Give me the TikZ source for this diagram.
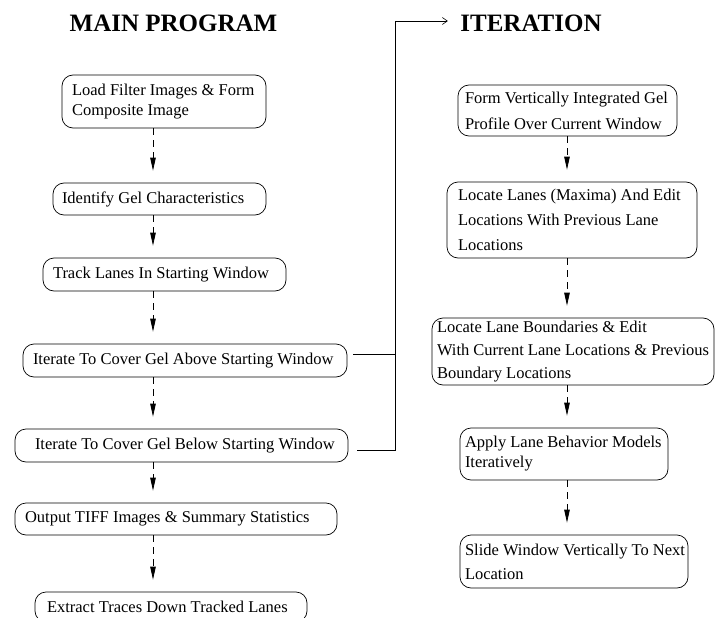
\documentclass[tikz,border=0pt]{standalone}
\usepackage{fontspec}
\setmainfont{Liberation Serif}
\usetikzlibrary{arrows.meta}
\begin{document}
\begin{tikzpicture}[x=1pt,y=-1pt,
  box/.style={draw, line width=0.7pt, rounded corners=11pt, align=flush left,
    inner ysep=0pt, font=\fontsize{16.5}{20}\selectfont},
  flow/.style={draw, line width=0.8pt, dash pattern=on 7pt off 5pt,
    -{Triangle[length=13pt,width=5.5pt]}, shorten >=12pt},
  link/.style={draw, line width=0.6pt},
  title/.style={font=\fontsize{25}{30}\selectfont\bfseries}]
\useasboundingbox (0,0) rectangle (715,618);

% headings
\node[title] (main) at (173.5,23.5) {MAIN PROGRAM};
\node[title] (iter) at (531,23.5) {ITERATION};

% main program
\node[box, text width=184pt, inner xsep=10pt, minimum height=53pt] (b1) at (164,101.5)
  {\mbox{Load Filter Images \& Form}\\\mbox{Composite Image}};
\node[box, text width=195pt, inner xsep=9pt, minimum height=32pt] (b2) at (159.5,199)
  {\mbox{Identify Gel Characteristics}};
\node[box, text width=223pt, inner xsep=10pt, minimum height=33pt] (b3) at (164.5,274.5)
  {\mbox{Track Lanes In Starting Window}};
\node[box, text width=304pt, inner xsep=10pt, minimum height=33pt] (b4) at (185,360.5)
  {\mbox{Iterate To Cover Gel Above Starting Window}};
\node[box, text width=293pt, inner xsep=20pt, minimum height=33pt] (b5) at (181.5,445.5)
  {\mbox{Iterate To Cover Gel Below Starting Window}};
\node[box, text width=302pt, inner xsep=10pt, minimum height=32pt] (b6) at (176,519)
  {\mbox{Output TIFF Images \& Summary Statistics}};
\node[box, text width=248pt, inner xsep=12pt, minimum height=30pt] (b7) at (171,607)
  {\mbox{Extract Traces Down Tracked Lanes}};

% iteration
\node[box, text width=205pt, inner xsep=7pt, minimum height=51pt,
  font=\fontsize{16.5}{26}\selectfont] (r1) at (567.5,110.5)
  {\mbox{Form Vertically Integrated Gel}\\\mbox{Profile Over Current Window}};
\node[box, text width=228pt, inner xsep=11pt, minimum height=76pt,
  font=\fontsize{16.5}{25}\selectfont] (r2) at (572,220)
  {\mbox{Locate Lanes (Maxima) And Edit}\\\mbox{Locations With Previous Lane}\\\mbox{Locations}};
\node[box, text width=272pt, inner xsep=5pt, minimum height=67pt,
  font=\fontsize{16.5}{23}\selectfont] (r3) at (573,351.5)
  {\mbox{Locate Lane Boundaries \& Edit}\\\mbox{With Current Lane Locations \& Previous}\\\mbox{Boundary Locations}};
\node[box, text width=198pt, inner xsep=5pt, minimum height=52pt] (r4) at (564,454)
  {\mbox{Apply Lane Behavior Models}\\\mbox{Iteratively}};
\node[box, text width=218pt, inner xsep=5pt, minimum height=53pt,
  font=\fontsize{16.5}{24}\selectfont] (r5) at (574,561.5)
  {\mbox{Slide Window Vertically To Next}\\\mbox{Location}};

% flow columns
\coordinate (lx) at (153,0);
\coordinate (rx) at (567,0);
\coordinate (bus) at (395,21);

\draw[flow] (b1.south -| lx) -- (b2.north -| lx);
\draw[flow] (b2.south -| lx) -- (b3.north -| lx);
\draw[flow] (b3.south -| lx) -- (b4.north -| lx);
\draw[flow] (b4.south -| lx) -- (b5.north -| lx);
\draw[flow] (b5.south -| lx) -- (b6.north -| lx);
\draw[flow] (b6.south -| lx) -- (b7.north -| lx);

\draw[flow] (r1.south -| rx) -- (r2.north -| rx);
\draw[flow] (r2.south -| rx) -- (r3.north -| rx);
\draw[flow] (r3.south -| rx) -- (r4.north -| rx);
\draw[flow] (r4.south -| rx) -- (r5.north -| rx);

% hand-off to the iteration loop
\draw[link, shorten <=6pt] ([yshift=6.5pt]b4.east) -- ([yshift=6.5pt]b4.east -| bus);
\draw[link, shorten <=9pt, shorten >=9pt, -{Straight Barb[length=5pt,width=7pt]}]
  ([yshift=-4.5pt]b5.east) -- ([yshift=-4.5pt]b5.east -| bus) -- (bus) -- (bus -| iter.west);
\end{tikzpicture}
\end{document}
